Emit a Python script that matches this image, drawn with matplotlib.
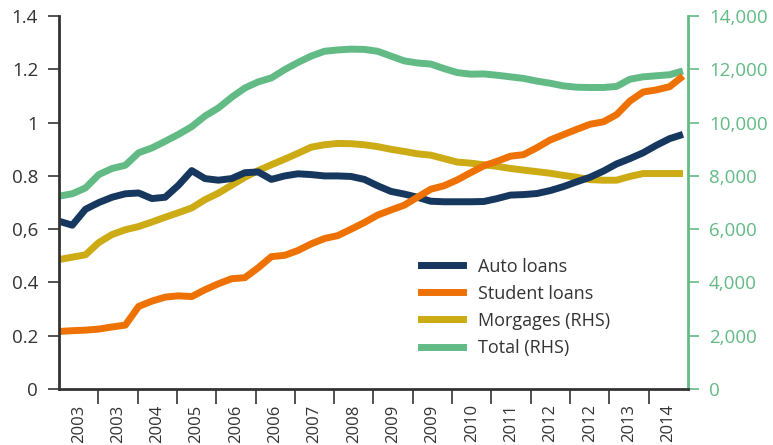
import numpy as np
import matplotlib
matplotlib.use('Agg')
import matplotlib.pyplot as plt
from matplotlib.lines import Line2D

plt.rcParams['font.family'] = ['Open Sans', 'DejaVu Sans']

# category labels along the bottom (one label every three quarters)
year_labels = ['2003', '2003', '2004', '2005', '2006', '2006', '2007', '2008',
               '2009', '2009', '2010', '2011', '2012', '2012', '2013', '2014']

# left hand side series
auto_loans = [0.63, 0.615, 0.675, 0.70, 0.72, 0.733, 0.736, 0.715, 0.72, 0.765,
              0.82, 0.79, 0.784, 0.79, 0.812, 0.815, 0.787, 0.80, 0.808, 0.805,
              0.80, 0.80, 0.798, 0.787, 0.763, 0.742, 0.732, 0.72, 0.705, 0.703,
              0.703, 0.703, 0.704, 0.715, 0.728, 0.73, 0.734, 0.745, 0.76, 0.778,
              0.795, 0.818, 0.845, 0.865, 0.887, 0.915, 0.94, 0.956]
student_loans = [0.216, 0.219, 0.221, 0.225, 0.233, 0.24, 0.31, 0.33, 0.345, 0.35,
                 0.347, 0.373, 0.395, 0.414, 0.418, 0.455, 0.497, 0.502, 0.52, 0.545,
                 0.565, 0.576, 0.60, 0.625, 0.653, 0.672, 0.69, 0.72, 0.75, 0.763,
                 0.785, 0.812, 0.838, 0.855, 0.874, 0.88, 0.906, 0.935, 0.955, 0.975,
                 0.994, 1.003, 1.03, 1.081, 1.115, 1.123, 1.135, 1.175]

# right hand side series
mortgages = [4860, 4950, 5040, 5500, 5800, 5980, 6100, 6270, 6450, 6620,
             6800, 7110, 7350, 7650, 7950, 8200, 8420, 8630, 8850, 9080,
             9170, 9220, 9210, 9170, 9100, 9000, 8920, 8830, 8780, 8650,
             8520, 8480, 8420, 8360, 8280, 8220, 8160, 8100, 8020, 7950,
             7860, 7840, 7840, 7980, 8090, 8090, 8090, 8090]
total = [7240, 7330, 7550, 8050, 8280, 8400, 8870, 9050, 9300, 9560,
         9850, 10250, 10550, 10950, 11300, 11530, 11680, 11990, 12260, 12500,
         12680, 12730, 12760, 12750, 12680, 12500, 12320, 12240, 12200, 12030,
         11880, 11820, 11830, 11780, 11720, 11660, 11560, 11480, 11380, 11330,
         11320, 11320, 11360, 11630, 11720, 11760, 11800, 11940]

left_ticks = [0, 0.2, 0.4, 0.6, 0.8, 1.0, 1.2, 1.4]
left_tick_labels = ['0', '0.2', '0.4', '0,6', '0.8', '1', '1.2', '1.4']
right_ticks = [0, 2000, 4000, 6000, 8000, 10000, 12000, 14000]
right_tick_labels = ['0', '2,000', '4,000', '6,000', '8,000', '10,000', '12,000', '14,000']

navy = '#16375e'
orange = '#ee7203'
gold = '#ccab14'
green = '#62bb85'
dark = '#333333'

n_cat = len(year_labels)
x = np.linspace(0, n_cat * 624 / 629, len(auto_loans))

fig = plt.figure(figsize=(7.73, 4.45), dpi=100)
ax1 = fig.add_axes([0.0763, 0.1258, 0.8137, 0.838])
ax2 = ax1.twinx()

lw = 5
style = dict(lw=lw, solid_capstyle='butt', solid_joinstyle='round')
ax2.plot(x, mortgages, color=gold, **style)
ax2.plot(x, total, color=green, **style)
ax1.plot(x, auto_loans, color=navy, **style)
ax1.plot(x, student_loans, color=orange, **style)

ax1.set_zorder(ax2.get_zorder() + 1)
ax1.patch.set_visible(False)

ax1.set_xlim(0, n_cat)
ax1.set_ylim(0, 1.4)
ax2.set_ylim(0, 14000)

# category boundaries get tick marks, labels sit in between
ax1.set_xticks(np.arange(1, n_cat))
ax1.set_xticklabels([])
ax1.set_xticks(np.arange(n_cat) + 0.5, minor=True)
ax1.set_xticklabels(year_labels, minor=True, rotation=90, fontsize=12, color=dark)
ax1.tick_params(axis='x', which='major', length=11, width=1.2, color=dark)
ax1.tick_params(axis='x', which='minor', length=0, pad=11)

ax1.set_yticks(left_ticks)
ax1.set_yticklabels(left_tick_labels, fontsize=13.5, color=dark)
ax1.tick_params(axis='y', length=8, width=1.2, color=dark, pad=7)

ax2.set_yticks(right_ticks)
ax2.set_yticklabels(right_tick_labels, fontsize=13.5, color=green)
ax2.tick_params(axis='y', length=8, width=1.2, color=green, pad=7)

for ax in (ax1, ax2):
    ax.spines['top'].set_visible(False)
ax1.spines['right'].set_visible(False)
ax2.spines['left'].set_visible(False)
ax2.spines['bottom'].set_visible(False)
ax1.spines['left'].set_color(dark)
ax1.spines['left'].set_linewidth(2)
ax1.spines['bottom'].set_color(dark)
ax1.spines['bottom'].set_linewidth(2)
ax2.spines['right'].set_color(green)
ax2.spines['right'].set_linewidth(2)

handles = [Line2D([], [], color=navy, lw=lw),
           Line2D([], [], color=orange, lw=lw),
           Line2D([], [], color=gold, lw=lw),
           Line2D([], [], color=green, lw=lw)]
labels = ['Auto loans', 'Student loans', 'Morgages (RHS)', 'Total (RHS)']
leg = ax1.legend(handles, labels, loc='upper left', bbox_to_anchor=(0.575, 0.352),
                 frameon=False, fontsize=13, handlelength=2.33, handletextpad=0.85,
                 labelspacing=0.5, borderaxespad=0, borderpad=0)
for t in leg.get_texts():
    t.set_color(dark)

fig.savefig('out.png', dpi=100)
